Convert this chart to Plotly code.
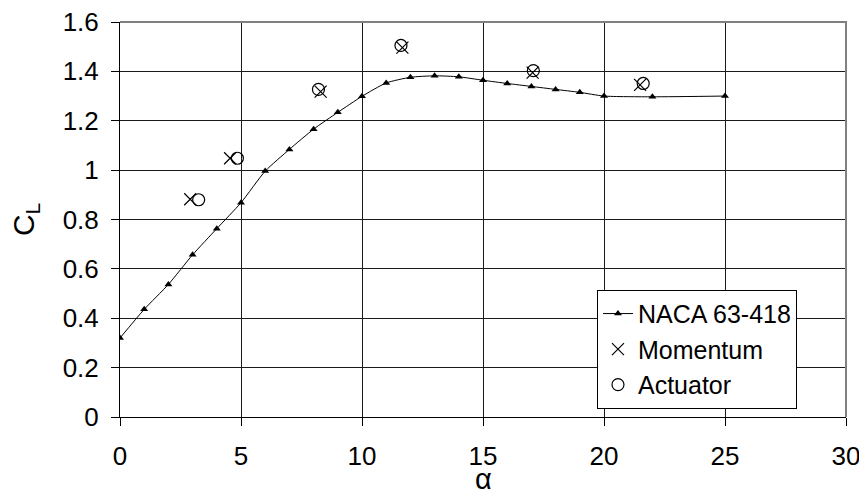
import plotly.graph_objects as go

naca_alpha = [0, 1, 2, 3, 4, 5, 6, 7, 8, 9, 10, 11, 12, 13, 14, 15, 16, 17, 18, 19, 20, 22, 25]
naca_cl = [0.32, 0.436, 0.537, 0.657, 0.763, 0.868, 0.996, 1.084, 1.166, 1.234, 1.299, 1.353,
           1.376, 1.382, 1.378, 1.364, 1.351, 1.339, 1.327, 1.315, 1.300, 1.297, 1.300]

mom_alpha = [2.9, 4.55, 8.29, 11.67, 17.05, 21.49]
mom_cl = [0.882, 1.048, 1.318, 1.496, 1.395, 1.345]

act_alpha = [3.25, 4.85, 8.2, 11.61, 17.08, 21.62]
act_cl = [0.88, 1.048, 1.327, 1.505, 1.403, 1.351]

x_ticks = [0, 5, 10, 15, 20, 25, 30]
y_ticks = [0, 0.2, 0.4, 0.6, 0.8, 1, 1.2, 1.4, 1.6]
y_labels = ["0", "0.2", "0.4", "0.6", "0.8", "1", "1.2", "1.4", "1.6"]

FONT = "Liberation Sans, Arial, sans-serif"

fig = go.Figure()
fig.add_trace(go.Scatter(
    x=naca_alpha, y=naca_cl, mode="lines+markers", name="NACA 63-418",
    line=dict(color="black", width=1, shape="spline", smoothing=0.6),
    marker=dict(symbol="triangle-up", size=7, color="black"),
))
fig.add_trace(go.Scatter(
    x=mom_alpha, y=mom_cl, mode="markers", name="Momentum",
    marker=dict(symbol="x-thin-open", size=12, color="black", line=dict(color="black", width=1.2)),
))
fig.add_trace(go.Scatter(
    x=act_alpha, y=act_cl, mode="markers", name="Actuator",
    marker=dict(symbol="circle-open", size=12, color="black", line=dict(color="black", width=1.2)),
))

fig.update_layout(
    width=867, height=496,
    margin=dict(l=112, r=29, t=14, b=87, autoexpand=False),
    paper_bgcolor="white", plot_bgcolor="white",
    font=dict(family=FONT, color="black", size=26),
    showlegend=True,
    legend=dict(
        x=0.657, y=0.322, xanchor="left", yanchor="top",
        bgcolor="white", bordercolor="black", borderwidth=1,
        font=dict(size=25, family=FONT), tracegroupgap=0, itemwidth=30,
    ),
    xaxis=dict(
        range=[0, 30], tickvals=x_ticks, ticks="outside", ticklen=8, tickcolor="black",
        showgrid=True, gridcolor="#1a1a1a", gridwidth=1,
        showline=True, linecolor="black", linewidth=1, mirror=False,
        zeroline=False, tickfont=dict(size=26, family=FONT), automargin=False,
        ticklabelstandoff=8, ticklabeloverflow="allow",
    ),
    yaxis=dict(
        range=[0, 1.6], tickvals=y_ticks, ticktext=y_labels, ticks="outside", ticklen=8,
        tickcolor="black",
        showgrid=True, gridcolor="#1a1a1a", gridwidth=1,
        showline=True, linecolor="black", linewidth=1,
        zeroline=False, tickfont=dict(size=26, family=FONT), automargin=False,
        ticklabelstandoff=7, ticklabeloverflow="allow",
    ),
)
fig.add_shape(type="path", xref="paper", yref="paper",
              path="M 0,1 L 1,1 L 1,0",
              line=dict(color="#808080", width=2), layer="above")
fig.add_annotation(text="C<sub>L</sub>", xref="paper", yref="paper", x=-0.13, y=0.5,
                   xanchor="center", yanchor="middle", showarrow=False, textangle=-90,
                   font=dict(size=30, family=FONT))
fig.add_annotation(text="α", xref="paper", yref="paper", x=0.5, y=-0.158,
                   xanchor="center", yanchor="middle", showarrow=False,
                   font=dict(size=29, family=FONT))

fig.write_html("out.html")
